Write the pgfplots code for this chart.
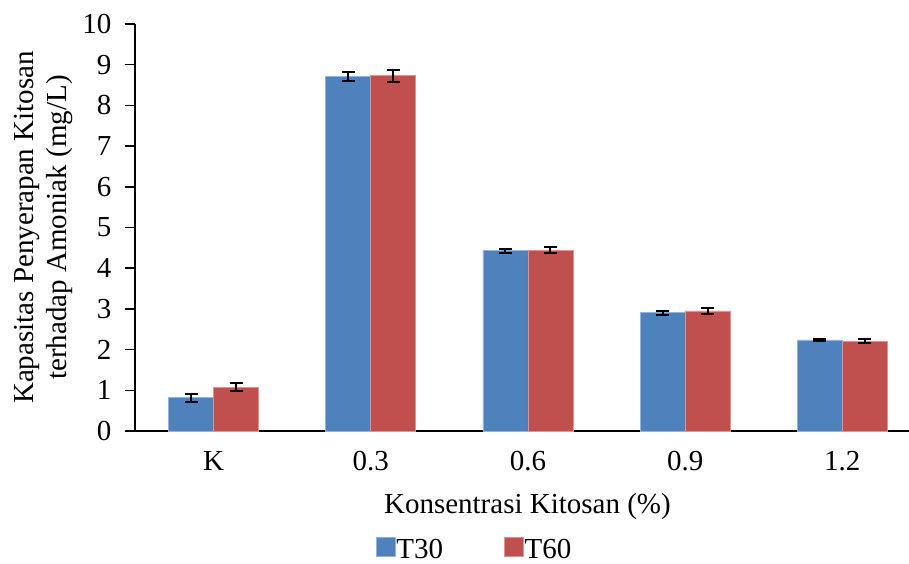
\documentclass[border=0pt]{standalone}
\usepackage{pgfplots}
\pgfplotsset{compat=1.18}
\usepackage{fontspec}
\setmainfont{Liberation Serif}
\definecolor{cA}{HTML}{4F81BD}
\definecolor{cB}{HTML}{C0504D}
\begin{document}
\begin{tikzpicture}[font=\fontsize{29}{33}\selectfont]
\path[use as bounding box] (-135pt,-132pt) rectangle (774pt,431pt);
\begin{axis}[
  at={(0,0)}, anchor=south west,
  scale only axis,
  width=774pt, height=407pt,
  xmin=-0.5, xmax=4.424,
  ymin=0, ymax=10,
  ytick={0,1,...,10},
  xtick={0,1,2,3,4},
  xticklabels={K,0.3,0.6,0.9,1.2},
  extra x ticks={-0.5,0.5,1.5,2.5,3.5},
  extra x tick labels={},
  extra x tick style={major tick length=9pt, tick style={line width=1.5pt, black}, tick align=outside},
  x tick style={draw=none},
  y tick style={line width=1.5pt, black},
  major tick length=10pt,
  tick align=outside,
  tick pos=left,
  axis x line*=bottom,
  axis y line*=left,
  axis line style={line width=2pt, black, -},
  /pgf/number format/assume math mode=true,
  yticklabel style={anchor=east, xshift=-10pt},
  xticklabel style={anchor=center, yshift=-20pt},
  xlabel={Konsentrasi Kitosan (\%)},
  xlabel style={at={(axis description cs:0.507,0)}, anchor=center, yshift=-76pt},
  ylabel={Kapasitas Penyerapan Kitosan\\terhadap Amoniak (mg/L)},
  ylabel style={align=center, at={(axis description cs:-0.118,0.5)}, anchor=center},
  ybar=0pt,
  bar width=45pt,
  legend style={draw=none, fill=none, inner sep=0pt, at={(0.438,-0.2875)}, anchor=center, legend columns=2,
    nodes={inner sep=1pt, text depth=0pt},
    /tikz/every even column/.append style={column sep=60pt}},
  legend image code/.code={\fill[#1] (0pt,-7pt) rectangle (19pt,12pt);},
  error bars/y dir=both, error bars/y explicit,
  error bars/error bar style={line width=2pt, black},
  error bars/error mark options={rotate=90, mark size=6.5pt, line width=2pt, black},
]
\addplot[fill=cA, draw=cA!60!white, line width=0.6pt] coordinates {
  (0,0.82) +- (0,0.10)
  (1,8.71) +- (0,0.12)
  (2,4.43) +- (0,0.05)
  (3,2.91) +- (0,0.05)
  (4,2.24) +- (0,0.03)
};
\addplot[fill=cB, draw=cB!60!white, line width=0.6pt] coordinates {
  (0,1.08) +- (0,0.09)
  (1,8.73) +- (0,0.15)
  (2,4.44) +- (0,0.07)
  (3,2.95) +- (0,0.07)
  (4,2.21) +- (0,0.05)
};
\legend{T30,T60}
\end{axis}
\end{tikzpicture}
\end{document}
